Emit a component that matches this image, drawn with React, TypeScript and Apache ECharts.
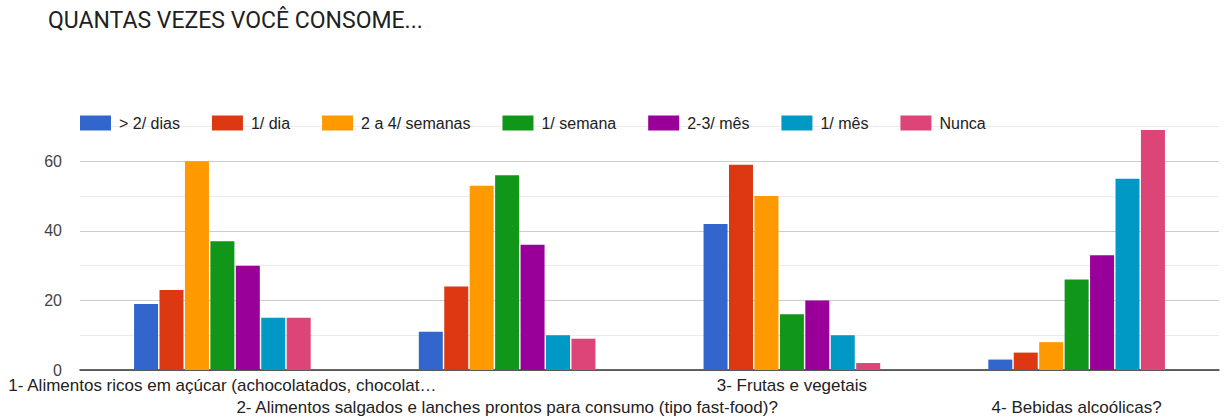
import React, { useEffect, useRef } from "react";
import * as echarts from "echarts";

const categories = [
  "1- Alimentos ricos em açúcar (achocolatados, chocolat…",
  "2- Alimentos salgados e lanches prontos para consumo (tipo fast-food)?",
  "3- Frutas e vegetais",
  "4- Bebidas alcoólicas?",
];
const seriesNames = ["> 2/ dias", "1/ dia", "2 a 4/ semanas", "1/ semana", "2-3/ mês", "1/ mês", "Nunca"];
const seriesColors = ["#3366cc", "#dc3912", "#ff9900", "#109618", "#990099", "#0099c6", "#dd4477"];
const maisDe2Dias = [19, 11, 42, 3];
const umDia = [23, 24, 59, 5];
const doisAQuatroSemanas = [60, 53, 50, 8];
const umaSemana = [37, 56, 16, 26];
const doisTresMes = [30, 36, 20, 33];
const umMes = [15, 10, 10, 55];
const nunca = [15, 9, 2, 69];
const seriesValues = [maisDe2Dias, umDia, doisAQuatroSemanas, umaSemana, doisTresMes, umMes, nunca];

export default function App() {
  const ref = useRef<HTMLDivElement>(null);
  useEffect(() => {
    document.body.style.margin = "0";
    const chart = echarts.init(ref.current!, null, { renderer: "svg" });
    const font = "'Liberation Sans', Arial, sans-serif";
    chart.setOption({
      animation: false,
      textStyle: { fontFamily: font },
      title: {
        text: "QUANTAS VEZES VOCÊ CONSOME...",
        left: 43,
        top: 4,
        textStyle: { fontFamily: "Roboto, sans-serif", fontSize: 23, fontWeight: 400, color: "#212121" },
      },
      legend: {
        left: 80,
        top: 115,
        padding: 0,
        itemWidth: 31,
        itemHeight: 15,
        itemGap: 32,
        icon: "rect",
        textStyle: { fontSize: 16, color: "#222", padding: [0, 0, 0, 3] },
        data: seriesNames,
      },
      grid: { left: 80, right: 11, top: 126.5, bottom: 49, containLabel: false },
      xAxis: {
        type: "category",
        data: categories,
        axisLine: { lineStyle: { color: "#333", width: 1.5 } },
        axisTick: { show: false },
        axisLabel: {
          interval: 0,
          fontSize: 17,
          color: "#222",
          margin: 4,
          lineHeight: 22,
          formatter: (v: string, i: number) => (i % 2 ? "\n" + v : v),
        },
      },
      yAxis: {
        type: "value",
        min: 0,
        max: 70,
        interval: 10,
        axisLine: { show: false },
        axisTick: { show: false },
        axisLabel: {
          fontSize: 16,
          color: "#444",
          margin: 18,
          formatter: (v: number) => (v % 20 === 0 ? String(v) : ""),
        },
        splitLine: { lineStyle: { color: ["#cccccc", "#ebebeb"], width: 1.2 } },
      },
      series: seriesNames.map((name, i) => ({
        name,
        type: "bar",
        data: seriesValues[i],
        barWidth: 24,
        barGap: "6%",
        itemStyle: { color: seriesColors[i] },
      })),
    });
    return () => chart.dispose();
  }, []);
  return <div ref={ref} style={{ width: 1230, height: 419 }} />;
}
